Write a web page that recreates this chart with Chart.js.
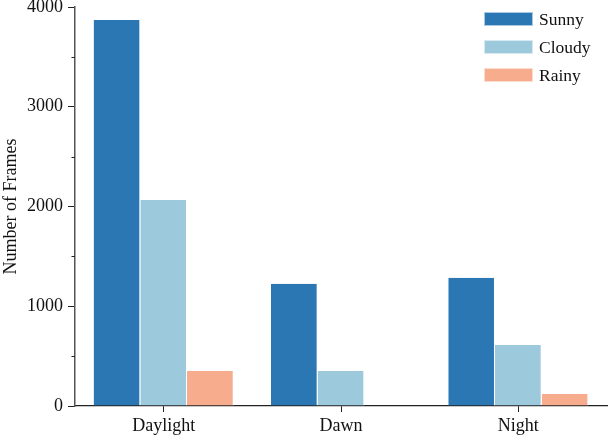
<!DOCTYPE html>
<html>
<head>
<meta charset="utf-8">
<script src="https://cdn.jsdelivr.net/npm/chart.js@4"></script>
<style>
  html, body { margin: 0; padding: 0; background: #fff; }
  #wrap { width: 608px; height: 436px; position: relative; }
</style>
</head>
<body>
<div id="wrap"><canvas id="chart"></canvas></div>
<script>
const categories = ['Daylight', 'Dawn', 'Night'];
const sunny = [3870, 1225, 1285];
const cloudy = [2065, 350, 612];
const rainy = [352, 0, 120];
const seriesNames = ['Sunny', 'Cloudy', 'Rainy'];
const colors = ['#2a77b4', '#9dc9dc', '#f7ad8d'];
const yTicks = [0, 1000, 2000, 3000, 4000];
const yMinor = [500, 1500, 2500, 3500];

const FONT = '"Liberation Serif", "Times New Roman", serif';

// short minor ticks on the y axis
const minorTicks = {
  id: 'minorTicks',
  afterDraw(chart) {
    const y = chart.scales.y;
    const ctx = chart.ctx;
    ctx.save();
    ctx.strokeStyle = '#222';
    ctx.lineWidth = 1;
    yMinor.forEach(v => {
      const py = Math.round(y.getPixelForValue(v)) + 0.5;
      ctx.beginPath();
      ctx.moveTo(y.right - 3.5, py);
      ctx.lineTo(y.right, py);
      ctx.stroke();
    });
    ctx.restore();
  }
};

// legend drawn in the upper right of the plot
const boxLegend = {
  id: 'boxLegend',
  afterDraw(chart) {
    const ctx = chart.ctx;
    ctx.save();
    ctx.font = '17.5px ' + FONT;
    ctx.textBaseline = 'middle';
    chart.data.datasets.forEach((ds, i) => {
      const cy = 19 + i * 28;
      ctx.fillStyle = ds.backgroundColor;
      ctx.fillRect(484, cy - 7, 49, 14);
      ctx.strokeStyle = 'rgba(255,255,255,0.6)';
      ctx.strokeRect(484.5, cy - 6.5, 48, 13);
      ctx.fillStyle = '#111';
      ctx.fillText(ds.label, 539, cy + 1);
    });
    ctx.restore();
  }
};

const datasets = [sunny, cloudy, rainy].map((data, i) => ({
  label: seriesNames[i],
  data,
  backgroundColor: colors[i],
  borderColor: '#ffffff',
  borderWidth: { left: 0, right: 1, top: 0, bottom: 0 },
  borderSkipped: false,
  categoryPercentage: 0.79,
  barPercentage: 1.0,
}));

new Chart(document.getElementById('chart'), {
  type: 'bar',
  data: { labels: categories, datasets },
  options: {
    responsive: true,
    maintainAspectRatio: false,
    animation: false,
    layout: { padding: { top: 7, right: 1, left: 0, bottom: 0 } },
    plugins: {
      legend: { display: false },
      tooltip: { enabled: false },
    },
    scales: {
      x: {
        grid: { display: true, drawOnChartArea: false, offset: false, tickLength: 6, tickColor: '#222' },
        border: { color: '#222', width: 1.2 },
        ticks: { color: '#111', font: { family: FONT, size: 18 }, padding: 3 },
        afterFit(s) { s.height = 30; s.paddingLeft = 0; s.paddingRight = 0; },
      },
      y: {
        min: 0,
        max: 4000,
        afterBuildTicks(s) { s.ticks = yTicks.map(v => ({ value: v })); },
        grid: { display: true, drawOnChartArea: false, tickLength: 7, tickColor: '#222' },
        border: { color: '#555', width: 1.5 },
        ticks: { color: '#111', font: { family: FONT, size: 18 }, padding: 5, callback: v => String(v) },
        title: { display: true, text: 'Number of Frames', color: '#111', font: { family: FONT, size: 18 }, padding: { top: 0, bottom: 0 } },
        afterFit(s) { s.width = 75; s.paddingTop = 0; s.paddingBottom = 0; },
      },
    },
  },
  plugins: [minorTicks, boxLegend],
});
</script>
</body>
</html>
